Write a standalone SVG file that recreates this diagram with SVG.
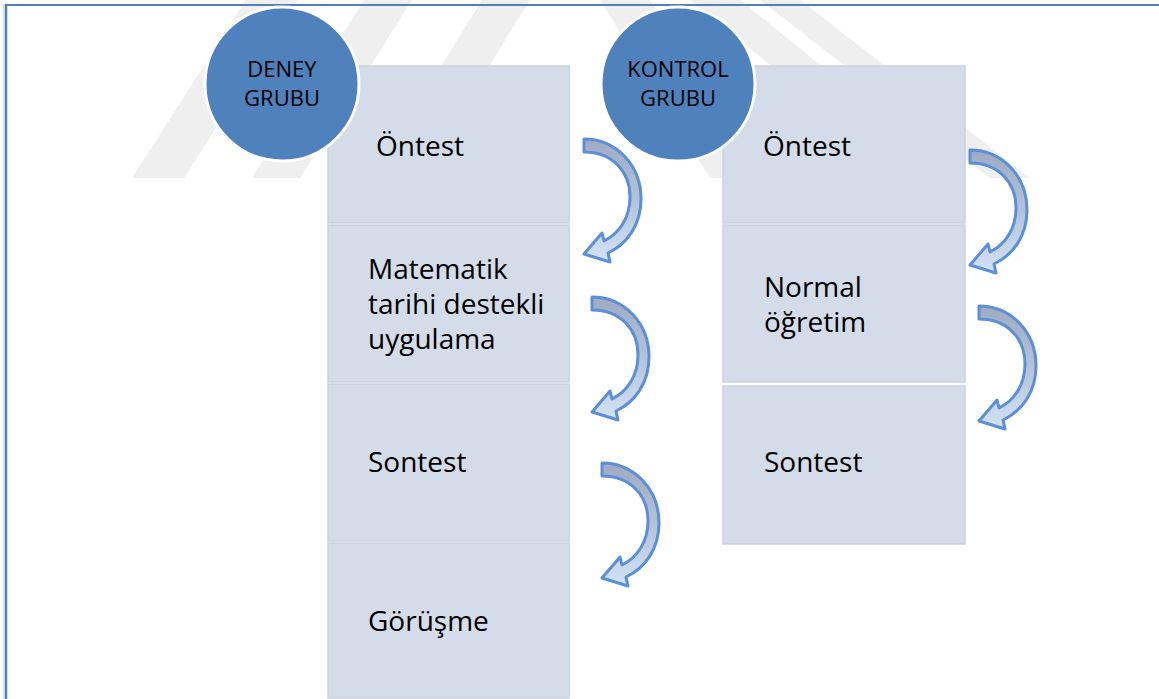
<svg xmlns="http://www.w3.org/2000/svg" xmlns:xlink="http://www.w3.org/1999/xlink" width="1159" height="699" viewBox="0 0 1159 699">
  <style>
    .mark { fill: #efefef; }
    .box { fill: #d4dbe9; stroke: #cad2e2; stroke-width: 1.5; }
    .circ { fill: #4f81bd; stroke: #ffffff; stroke-width: 3; }
    .ctext { font-family: "Open Sans", "Liberation Sans", sans-serif; font-size: 22px; fill: #000000; text-anchor: middle; }
    .btext { font-family: "Open Sans", "Liberation Sans", sans-serif; font-size: 28px; fill: #000000; }
    .arrow { fill: url(#arrowFill); stroke: #5b8fd7; stroke-width: 3; stroke-linejoin: round; }
  </style>
  <defs>
    <linearGradient id="arrowFill" x1="0" y1="0" x2="0" y2="1">
      <stop offset="0" stop-color="#9eabc2"/>
      <stop offset="0.5" stop-color="#b4c3da"/>
      <stop offset="1" stop-color="#d3e2f6"/>
    </linearGradient>
    <!-- curved arrow: tail at top-left, sweeps round to the right, head points back left -->
    <path id="curvedArrow" d="M0,0 C32,0 57,26 57,60 C57,86 43,105 24,114 L26,123 L0,115 L18,94 L20,102 C36,94 46,78 46,58 C46,32 28,13 0,13 Z"/>
  </defs>

  <rect x="0" y="0" width="1159" height="699" fill="#ffffff"/>

  <!-- faint background emblem -->
  <g id="emblem">
    <polygon class="mark" points="132,178 184,178 298,0 246,0"/>
    <polygon class="mark" points="252,178 300,178 412,0 364,0"/>
    <polygon class="mark" points="372,178 420,178 530,0 482,0"/>
    <polygon class="mark" points="600,0 650,0 760,178 710,178"/>
    <polygon class="mark" points="690,0 740,0 960,178 910,178"/>
    <polygon class="mark" points="760,0 800,0 1030,178 990,178"/>
  </g>

  <!-- page frame -->
  <g id="frame">
    <line x1="3.5" y1="4" x2="3.5" y2="699" stroke="#e4e4e4" stroke-width="2"/>
    <line x1="5" y1="5" x2="1159" y2="5" stroke="#4f81bd" stroke-width="2"/>
    <line x1="6" y1="4" x2="6" y2="699" stroke="#4f81bd" stroke-width="2.5"/>
  </g>

  <!-- experimental group column -->
  <g id="deney-ontest">
    <rect class="box" x="328" y="66" width="241" height="157"/>
    <text class="btext" x="376" y="156">Öntest</text>
  </g>
  <g id="deney-uygulama">
    <rect class="box" x="328" y="225" width="241" height="157"/>
    <text class="btext" x="368" y="279">Matematik</text>
    <text class="btext" x="368" y="314">tarihi destekli</text>
    <text class="btext" x="368" y="349">uygulama</text>
  </g>
  <g id="deney-sontest">
    <rect class="box" x="328" y="384" width="241" height="157"/>
    <text class="btext" x="368" y="472">Sontest</text>
  </g>
  <g id="deney-gorusme">
    <rect class="box" x="328" y="543" width="241" height="155"/>
    <text class="btext" x="368" y="631">Görüşme</text>
  </g>
  <g id="deney-grubu">
    <circle class="circ" cx="282" cy="84" r="77"/>
    <text class="ctext" x="282" y="77">DENEY</text>
    <text class="ctext" x="282" y="106">GRUBU</text>
  </g>

  <!-- control group column -->
  <g id="kontrol-ontest">
    <rect class="box" x="723" y="66" width="242" height="157"/>
    <text class="btext" x="763" y="156">Öntest</text>
  </g>
  <g id="kontrol-ogretim">
    <rect class="box" x="723" y="225" width="242" height="157"/>
    <text class="btext" x="764" y="297">Normal</text>
    <text class="btext" x="764" y="332">öğretim</text>
  </g>
  <g id="kontrol-sontest">
    <rect class="box" x="723" y="386" width="242" height="158"/>
    <text class="btext" x="764" y="472">Sontest</text>
  </g>
  <g id="kontrol-grubu">
    <circle class="circ" cx="678" cy="84" r="77"/>
    <text class="ctext" x="678" y="77">KONTROL</text>
    <text class="ctext" x="678" y="106">GRUBU</text>
  </g>

  <!-- step arrows -->
  <g id="connectors">
    <use class="arrow" xlink:href="#curvedArrow" transform="translate(584,139)"/>
    <use class="arrow" xlink:href="#curvedArrow" transform="translate(592,297)"/>
    <use class="arrow" xlink:href="#curvedArrow" transform="translate(602,463)"/>
    <use class="arrow" xlink:href="#curvedArrow" transform="translate(970,150)"/>
    <use class="arrow" xlink:href="#curvedArrow" transform="translate(979,306)"/>
  </g>
</svg>
